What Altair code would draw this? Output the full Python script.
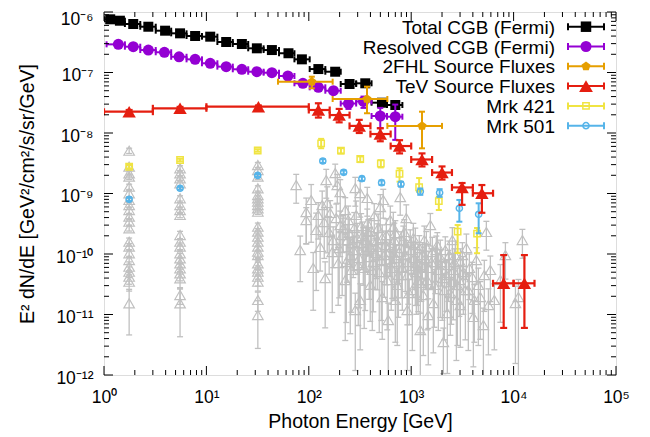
import altair as alt
import pandas as pd

FONT = "Liberation Sans"

# ---------------- data ----------------
# Total CGB (Fermi)
cgb_E = [1.15, 1.43, 1.93, 2.71, 3.95, 5.53, 7.76, 10.9, 15.6, 22.2, 31.1, 43.6, 63.3, 85.6, 124, 181, 250, 356, 518, 699]
cgb_Elo = [1.0, 1.26, 1.6, 2.26, 3.2, 4.53, 6.4, 9.05, 12.8, 18.1, 25.6, 36.2, 51.2, 72.4, 102, 145, 205, 290, 410, 580]
cgb_Ehi = [1.26, 1.6, 2.26, 3.2, 4.53, 6.4, 9.05, 12.8, 18.1, 25.6, 36.2, 51.2, 72.4, 102, 145, 205, 290, 410, 580, 820]
cgb_F = [7.57e-7, 7.18e-7, 6.33e-7, 5.71e-7, 4.91e-7, 4.44e-7, 4.01e-7, 3.91e-7, 3.19e-7, 2.96e-7,
         2.51e-7, 2.35e-7, 2.08e-7, 1.65e-7, 1.14e-7, 1.03e-7, 6.45e-8, 6.63e-8, 3.17e-8, 2.90e-8]
cgb_rel = [0.05, 0.05, 0.05, 0.05, 0.05, 0.05, 0.05, 0.05, 0.05, 0.05,
           0.06, 0.06, 0.06, 0.07, 0.08, 0.09, 0.10, 0.10, 0.12, 0.13]

# Resolved CGB (Fermi)
res_E = [1.38, 1.93, 2.71, 3.89, 5.41, 7.76, 10.9, 15.6, 22.2, 31.1, 43.6, 62.5, 87.6, 124, 174, 244, 342, 499, 699]
res_Elo = [1.06, 1.6, 2.26, 3.2, 4.53, 6.4, 9.05, 12.8, 18.1, 25.6, 36.2, 51.2, 72.4, 102, 145, 205, 290, 410, 580]
res_Ehi = [1.6, 2.26, 3.2, 4.53, 6.4, 9.05, 12.8, 18.1, 25.6, 36.2, 51.2, 72.4, 102, 145, 205, 290, 410, 580, 820]
res_F = [2.92e-7, 2.67e-7, 2.35e-7, 2.16e-7, 1.82e-7, 1.65e-7, 1.42e-7, 1.25e-7, 1.13e-7, 1.03e-7,
         9.92e-8, 8.75e-8, 6.63e-8, 5.69e-8, 5.00e-8, 3.07e-8, 3.32e-8, 1.91e-8, 1.86e-8]
res_Flo = [2.8e-7, 2.55e-7, 2.25e-7, 2.06e-7, 1.73e-7, 1.57e-7, 1.35e-7, 1.18e-7, 1.07e-7, 9.7e-8,
           9.3e-8, 8.1e-8, 6.1e-8, 5.1e-8, 4.4e-8, 2.5e-8, 2.6e-8, 1.2e-8, 7.7e-9]
res_Fhi = [3.04e-7, 2.79e-7, 2.45e-7, 2.26e-7, 1.91e-7, 1.73e-7, 1.49e-7, 1.32e-7, 1.19e-7, 1.09e-7,
           1.05e-7, 9.4e-8, 7.2e-8, 6.3e-8, 5.6e-8, 3.6e-8, 4.0e-8, 2.6e-8, 2.95e-8]

# 2FHL Source Fluxes
fhl_E = [107, 370, 1275]
fhl_Elo = [50, 171, 585]
fhl_Ehi = [171, 585, 2000]
fhl_F = [7.05e-8, 3.65e-8, 1.31e-8]
fhl_Flo = [5.48e-8, 2.12e-8, 5.58e-9]
fhl_Fhi = [8.52e-8, 5.83e-8, 2.25e-8]

# TeV Source Fluxes
tev_E = [1.76, 5.53, 32.2, 124, 198, 311, 499, 770, 1275, 2000, 3140, 4900, 8000, 12750]
tev_Elo = [1.0, 3.0, 10, 100, 160, 250, 400, 630, 1000, 1600, 2500, 4000, 6300, 10000]
tev_Ehi = [3.0, 10, 100, 160, 250, 400, 630, 1000, 1600, 2500, 4000, 6300, 10000, 16000]
tev_F = [2.25e-8, 2.56e-8, 2.72e-8, 2.40e-8, 1.98e-8, 1.31e-8, 9.62e-9, 6.09e-9, 3.65e-9, 2.22e-9,
         1.26e-9, 1.01e-9, 3.28e-11, 3.28e-11]
tev_Flo = [2.1e-8, 2.4e-8, 2.6e-8, 1.8e-8, 1.5e-8, 1.0e-8, 7.3e-9, 4.6e-9, 2.8e-9, 1.7e-9,
           6.5e-10, 4.8e-10, 6.0e-12, 6.0e-12]
tev_Fhi = [2.4e-8, 2.7e-8, 2.85e-8, 3.1e-8, 2.5e-8, 1.65e-8, 1.2e-8, 7.6e-9, 4.6e-9, 2.8e-9,
           1.49e-9, 1.38e-9, 9.6e-11, 9.6e-11]

# Mrk 421
m421_E = [1.76, 5.53, 31.7, 132, 206, 318, 505, 769, 1195, 1861, 2841, 4398]
m421_F = [2.77e-9, 3.58e-9, 5.14e-9, 6.76e-9, 5.10e-9, 3.72e-9, 3.13e-9, 2.12e-9, 1.27e-9, 7.46e-10, 2.34e-10, 2.17e-10]
m421_Flo = [2.6e-9, 3.4e-9, 4.9e-9, 5.6e-9, 4.6e-9, 3.3e-9, 2.7e-9, 1.57e-9, 1.07e-9, 5.33e-10, 1.04e-10, 1.03e-10]
m421_Fhi = [2.95e-9, 3.75e-9, 5.4e-9, 8.0e-9, 5.6e-9, 4.1e-9, 3.55e-9, 2.61e-9, 1.80e-9, 8.85e-10, 3.01e-10, 2.69e-10]

# Mrk 501
m501_E = [1.76, 5.53, 31.7, 137, 219, 330, 514, 795, 1227, 1895, 2953, 4558]
m501_F = [8.01e-10, 1.22e-9, 1.99e-9, 3.44e-9, 2.24e-9, 1.76e-9, 1.51e-9, 1.43e-9, 1.08e-9, 1.03e-9, 5.69e-10, 4.53e-10]
m501_Flo = [7.5e-10, 1.15e-9, 1.88e-9, 3.2e-9, 2.08e-9, 1.62e-9, 1.38e-9, 1.3e-9, 9.5e-10, 8.8e-10, 3.42e-10, 2.20e-10]
m501_Fhi = [8.5e-10, 1.29e-9, 2.1e-9, 3.7e-9, 2.4e-9, 1.9e-9, 1.64e-9, 1.56e-9, 1.21e-9, 1.18e-9, 7.82e-10, 6.89e-10]

# individual sources (grey open triangles), values read as log10
faint_col_E = [1.76, 5.53, 31.8]
faint_col1_logF = [-8.293, -8.557, -8.666, -8.722, -8.888, -8.997, -9.107, -9.190, -9.273, -9.383, -9.466,
                   -9.575, -9.797, -9.879, -9.988, -10.099, -10.210, -10.293, -10.375, -10.458, -10.815]
faint_col1_rel = [0.1, 0.1, 0.1, 0.1, 0.1, 0.12, 0.1, 0.1, 0.12, 0.1, 0.12,
                  0.1, 0.15, 0.12, 0.15, 0.15, 0.2, 0.2, 0.25, 0.3, 0.7]
faint_col2_logF = [-8.583, -8.666, -8.749, -8.831, -9.079, -9.190, -9.273, -9.355, -9.686, -9.797,
                   -9.879, -9.988, -10.071, -10.154, -10.236, -10.319, -10.402, -10.678, -10.815]
faint_col2_rel = [0.1, 0.1, 0.1, 0.12, 0.1, 0.1, 0.12, 0.1, 0.15, 0.12,
                  0.15, 0.15, 0.2, 0.2, 0.2, 0.25, 0.3, 0.3, 0.72]
faint_col3_logF = [-8.529, -8.612, -8.722, -8.914, -9.025, -9.079, -9.136, -9.190, -9.245, -9.301, -9.549, -9.631,
                   -9.714, -9.797, -9.879, -9.962, -10.017, -10.154, -10.236, -10.293, -10.375, -10.458, -10.760, -11.008]
faint_col3_rel = [0.1, 0.1, 0.1, 0.1, 0.12, 0.1, 0.1, 0.12, 0.1, 0.1, 0.15, 0.12,
                  0.15, 0.15, 0.15, 0.2, 0.2, 0.2, 0.25, 0.25, 0.3, 0.3, 0.35, 0.72]

faint_logE = [1.877, 1.975, 1.975, 2.023, 2.072, 2.111, 2.131, 2.170, 2.180, 2.209,
              2.229, 2.258, 2.278, 2.287, 2.307, 2.326, 2.356, 2.375, 2.385, 2.405,
              2.424, 2.444, 2.454, 2.463, 2.483, 2.502, 2.502, 2.522, 2.532, 2.551,
              2.571, 2.571, 2.581, 2.600, 2.620, 2.639, 2.649, 2.669, 2.678, 2.698,
              2.708, 2.717, 2.727, 2.747, 2.757, 2.776, 2.786, 2.796, 2.805, 2.825,
              2.835, 2.854, 2.874, 2.893, 2.903, 2.923, 2.933, 2.952, 2.962, 2.972,
              2.981, 3.001, 3.021, 3.040, 3.060, 3.069, 3.089, 3.089, 3.109, 3.128,
              3.148, 3.167, 3.187, 3.206, 3.216, 3.236, 3.255, 3.284, 3.304, 3.314,
              3.333, 3.353, 3.363, 3.382, 3.402, 3.412, 3.431, 3.451, 3.480, 3.509,
              3.539, 3.558, 3.597, 3.607, 3.636, 3.675, 3.705, 3.734, 3.773, 3.812,
              3.871, 3.920, 4.018, 4.047, 4.086, 1.916, 2.043, 2.160, 2.356, 2.600,
              2.845, 3.167, 3.480, 2.454, 2.307,
              2.092, 2.151, 2.199, 2.238, 2.268, 2.297, 2.336, 2.366, 2.395, 2.414,
              2.434, 2.473, 2.493, 2.512, 2.541, 2.561, 2.590, 2.610, 2.630, 2.659,
              2.688, 2.717, 2.737, 2.766, 2.796, 2.815, 2.845, 2.864, 2.884, 2.913,
              2.942, 2.962, 2.991, 3.011, 3.030, 3.050, 3.079, 3.099, 3.118, 3.138,
              3.157, 3.196, 3.226, 3.245, 3.265, 3.294, 3.324, 3.343, 3.372, 3.392,
              3.421, 3.441, 3.470, 3.500, 3.529, 3.568, 3.617, 3.656, 3.714, 3.754]
faint_logF = [-8.860, -9.306, -9.438, -9.107, -9.603, -9.884, -9.190, -8.777, -9.157, -9.322,
              -9.967, -8.661, -8.860, -10.149, -9.521, -9.686, -9.273, -9.769, -9.438, -10.017,
              -9.818, -9.570, -8.909, -9.355, -10.182, -8.992, -10.760, -9.702, -9.818, -9.934,
              -9.074, -9.488, -9.636, -9.884, -10.264, -9.372, -9.983, -9.769, -9.570, -9.223,
              -10.099, -10.711, -9.107, -9.851, -9.686, -11.091, -9.967, -9.438, -10.231, -9.554,
              -9.769, -10.066, -10.347, -9.058, -9.901, -9.769, -9.636, -9.405, -10.926, -10.132,
              -10.645, -9.934, -9.736, -9.851, -10.149, -10.430, -10.479, -11.256, -10.017, -9.769,
              -9.884, -10.231, -9.521, -9.967, -10.810, -10.132, -9.851, -10.050, -10.397, -11.455,
              -9.934, -10.975, -10.182, -10.645, -9.769, -10.264, -10.017, -10.512, -10.132, -10.298,
              -9.901, -10.595, -10.380, -11.041, -10.099, -10.711, -11.174, -9.636, -10.264, -10.760,
              -10.430, -10.017, -10.810, -10.711, -9.769, -9.934, -10.231, -10.397, -10.430, -10.512,
              -10.760, -11.008, -10.843, -10.926, -8.975,
              -9.355, -9.471, -9.636, -9.769, -9.405, -9.901, -9.570, -10.132, -9.653, -10.264,
              -9.934, -9.736, -10.066, -9.537, -10.231, -9.769, -10.050, -9.620, -10.132, -9.884,
              -10.298, -9.736, -10.017, -10.430, -9.851, -10.132, -9.653, -10.512, -9.967, -10.231,
              -10.017, -10.347, -9.818, -10.595, -10.066, -10.298, -9.901, -10.182, -10.678, -10.066,
              -10.430, -10.132, -10.512, -9.934, -10.264, -10.132, -10.595, -10.347, -10.017, -10.463,
              -10.132, -10.760, -10.430, -10.017, -10.595, -10.231, -10.760, -10.512, -10.347, -10.843]
faint_rel = [0.5, 0.7, 0.6, 0.8, 0.9, 0.6, 0.7, 0.5, 0.85, 0.6,
             0.9, 0.4, 0.5, 0.8, 0.7, 0.9, 0.6, 0.8, 0.7, 0.95,
             0.6, 0.8, 0.5, 0.7, 0.9, 0.6, 0.85, 0.7, 0.8, 0.9,
             0.5, 0.7, 0.6, 0.8, 0.9, 0.6, 0.75, 0.85, 0.7, 0.6,
             0.9, 0.8, 0.5, 0.7, 0.85, 0.9, 0.6, 0.7, 0.8, 0.75,
             0.9, 0.6, 0.8, 0.5, 0.85, 0.7, 0.6, 0.65, 0.9, 0.8,
             0.7, 0.6, 0.75, 0.9, 0.8, 0.7, 0.85, 0.9, 0.6, 0.7,
             0.8, 0.9, 0.55, 0.75, 0.85, 0.7, 0.6, 0.9, 0.8, 0.7,
             0.65, 0.9, 0.75, 0.8, 0.6, 0.85, 0.7, 0.9, 0.65, 0.8,
             0.7, 0.9, 0.75, 0.85, 0.6, 0.8, 0.9, 0.5, 0.7, 0.85,
             0.8, 0.6, 0.9, 0.95, 0.5, 0.7, 0.8, 0.85, 0.9, 0.75,
             0.8, 0.85, 0.8, 0.9, 0.6,
             0.6, 0.75, 0.8, 0.65, 0.7, 0.85, 0.6, 0.9, 0.7, 0.8,
             0.65, 0.75, 0.85, 0.6, 0.9, 0.7, 0.8, 0.6, 0.85, 0.7,
             0.9, 0.65, 0.8, 0.85, 0.7, 0.75, 0.6, 0.9, 0.7, 0.8,
             0.75, 0.85, 0.65, 0.9, 0.7, 0.8, 0.6, 0.75, 0.9, 0.7,
             0.85, 0.65, 0.8, 0.7, 0.9, 0.6, 0.85, 0.75, 0.7, 0.8,
             0.65, 0.9, 0.75, 0.6, 0.85, 0.7, 0.8, 0.9, 0.75, 0.85]

# axes
x_tick_values = [1, 10, 100, 1000, 10000, 100000]
x_tick_labels = ["10⁰", "10¹", "10²", "10³", "10⁴", "10⁵"]
y_tick_values = [1e-12, 1e-11, 1e-10, 1e-9, 1e-8, 1e-7, 1e-6]
y_tick_labels = ["10⁻¹²", "10⁻¹¹", "10⁻¹⁰", "10⁻⁹", "10⁻⁸", "10⁻⁷", "10⁻⁶"]

legend_labels = ["Total CGB (Fermi)", "Resolved CGB (Fermi)", "2FHL Source Fluxes",
                 "TeV Source Fluxes", "Mrk 421", "Mrk 501"]

# ---------------- styling ----------------
W, H = 512, 363
C_BLACK, C_PURPLE, C_ORANGE, C_RED = "#000000", "#9400d3", "#e69f00", "#e51e10"
C_YELLOW, C_BLUE, C_GREY = "#f0e442", "#56b4e9", "#c0c0c0"
PENTAGON = "M0,-1L0.951,-0.309L0.588,0.809L-0.588,0.809L-0.951,-0.309Z"

xscale = alt.Scale(type="log", domain=[1, 1e5], nice=False)
yscale = alt.Scale(type="log", domain=[1e-12, 1e-6], nice=False)

x_expr = "[" + ",".join("'%s'" % s for s in x_tick_labels) + "][round(log(datum.value)/LN10)]"
y_expr = "[" + ",".join("'%s'" % s for s in y_tick_labels) + "][round(log(datum.value)/LN10)+12]"

xaxis = alt.Axis(values=x_tick_values, labelExpr=x_expr, title="Photon Energy [GeV]",
                 ticks=False, domain=False, grid=False, labelFont=FONT, labelFontSize=17.5,
                 labelColor="black", labelPadding=13, labelFlush=False, labelOverlap=False,
                 labelBound=False, titleFont=FONT, titleFontSize=19.5, titleFontWeight="normal",
                 titleColor="black", titlePadding=7)
yaxis = alt.Axis(values=y_tick_values, labelExpr=y_expr, title="E² dN/dE [GeV²/cm²/s/sr/GeV]",
                 ticks=False, domain=False, grid=False, labelFont=FONT, labelFontSize=17.5,
                 labelColor="black", labelPadding=11,
                 labelOffset={"expr": "datum.value > 5e-7 ? 7 : 3"},
                 labelFlush=False, labelOverlap=False,
                 labelBound=False, titleFont=FONT, titleFontSize=19.5, titleFontWeight="normal",
                 titleColor="black", titlePadding=18)


def X(f):
    return alt.X(f, type="quantitative", scale=xscale, axis=xaxis)


def Y(f):
    return alt.Y(f, type="quantitative", scale=yscale, axis=yaxis)


def series(df, color, shape, size, filled, lw, cap, xbars, stroke_pt=1.5):
    base = alt.Chart(df)
    out = [
        base.mark_rule(color=color, strokeWidth=lw, clip=True).encode(x=X("E"), y=Y("Flo"), y2=alt.Y2("Fhi")),
        base.mark_tick(orient="horizontal", color=color, size=cap, thickness=lw, clip=True, opacity=1).encode(x=X("E"), y=Y("Fhi")),
        base.mark_tick(orient="horizontal", color=color, size=cap, thickness=lw, clip=True, opacity=1).encode(x=X("E"), y=Y("Flo")),
    ]
    if xbars:
        out += [
            base.mark_rule(color=color, strokeWidth=lw, clip=True).encode(x=X("Elo"), x2=alt.X2("Ehi"), y=Y("F")),
            base.mark_tick(orient="vertical", color=color, size=cap, thickness=lw, clip=True, opacity=1).encode(x=X("Elo"), y=Y("F")),
            base.mark_tick(orient="vertical", color=color, size=cap, thickness=lw, clip=True, opacity=1).encode(x=X("Ehi"), y=Y("F")),
        ]
    if filled:
        pt = base.mark_point(shape=shape, size=size, filled=True, color=color, opacity=1, clip=True)
    else:
        pt = base.mark_point(shape=shape, size=size, filled=False, color=color, strokeWidth=stroke_pt,
                             opacity=1, clip=True)
    out.append(pt.encode(x=X("E"), y=Y("F")))
    return out


# ---------------- tables ----------------
cgb = pd.DataFrame({"E": cgb_E, "Elo": cgb_Elo, "Ehi": cgb_Ehi, "F": cgb_F})
cgb["Flo"] = cgb["F"] * (1 - pd.Series(cgb_rel))
cgb["Fhi"] = cgb["F"] * (1 + pd.Series(cgb_rel))
res = pd.DataFrame({"E": res_E, "Elo": res_Elo, "Ehi": res_Ehi, "F": res_F, "Flo": res_Flo, "Fhi": res_Fhi})
fhl = pd.DataFrame({"E": fhl_E, "Elo": fhl_Elo, "Ehi": fhl_Ehi, "F": fhl_F, "Flo": fhl_Flo, "Fhi": fhl_Fhi})
tev = pd.DataFrame({"E": tev_E, "Elo": tev_Elo, "Ehi": tev_Ehi, "F": tev_F, "Flo": tev_Flo, "Fhi": tev_Fhi})
m421 = pd.DataFrame({"E": m421_E, "F": m421_F, "Flo": m421_Flo, "Fhi": m421_Fhi})
m501 = pd.DataFrame({"E": m501_E, "F": m501_F, "Flo": m501_Flo, "Fhi": m501_Fhi})

rows = []
for e, lfs, rels in zip(faint_col_E, [faint_col1_logF, faint_col2_logF, faint_col3_logF],
                        [faint_col1_rel, faint_col2_rel, faint_col3_rel]):
    for lf, r in zip(lfs, rels):
        rows.append((e, 10 ** lf, r))
for le, lf, r in zip(faint_logE, faint_logF, faint_rel):
    rows.append((10 ** le, 10 ** lf, r))
faint = pd.DataFrame(rows, columns=["E", "F", "rel"])
faint["Flo"] = faint["F"] * (1 - faint["rel"])
faint["Fhi"] = faint["F"] * (1 + faint["rel"])

layers = []
layers += series(faint, C_GREY, "triangle-up", 110, False, 1.3, 6, False, stroke_pt=1.2)
layers += series(m421, C_YELLOW, "square", 40, False, 2, 6, False)
layers += series(m501, C_BLUE, "circle", 38, False, 2, 6, False)
layers += series(cgb, C_BLACK, "square", 100, True, 2, 6, True)
layers += series(res, C_PURPLE, "circle", 121, True, 2, 6, True)
layers += series(fhl, C_ORANGE, PENTAGON, 90, True, 2, 6, True)
layers += series(tev, C_RED, "triangle-up", 180, True, 2.2, 7, True)

# inward ticks on all four sides (gnuplot style)
x_minor = [m * 10 ** k for k in range(0, 5) for m in range(2, 10)]
y_minor = [m * 10.0 ** k for k in range(-12, -6) for m in range(2, 10)]
for vals, ln in [(x_tick_values, 9), (x_minor, 5)]:
    d = pd.DataFrame({"E": vals})
    layers.append(alt.Chart(d).mark_rule(color="black", strokeWidth=1).encode(x=X("E"), y=alt.value(H), y2=alt.value(H - ln)))
    layers.append(alt.Chart(d).mark_rule(color="black", strokeWidth=1).encode(x=X("E"), y=alt.value(0), y2=alt.value(ln)))
for vals, ln in [(y_tick_values, 9), (y_minor, 5)]:
    d = pd.DataFrame({"F": vals})
    layers.append(alt.Chart(d).mark_rule(color="black", strokeWidth=1).encode(y=Y("F"), x=alt.value(0), x2=alt.value(ln)))
    layers.append(alt.Chart(d).mark_rule(color="black", strokeWidth=1).encode(y=Y("F"), x=alt.value(W), x2=alt.value(W - ln)))

# key (gnuplot style: text right-aligned, sample to the right)
key_colors = [C_BLACK, C_PURPLE, C_ORANGE, C_RED, C_YELLOW, C_BLUE]
key_shapes = ["square", "circle", PENTAGON, "triangle-up", "square", "circle"]
key_sizes = [110, 121, 90, 190, 40, 38]
key_filled = [True, True, True, True, False, False]
TEXT_X, L0, L1, ROW0, ROW_STEP = 451, 464, 500, 14.7, 19.8
for i, lab in enumerate(legend_labels):
    yy = ROW0 + i * ROW_STEP
    d = pd.DataFrame({"label": [lab]})
    c = key_colors[i]
    layers.append(alt.Chart(d).mark_text(align="right", baseline="middle", font=FONT, fontSize=19, color="black")
                  .encode(x=alt.value(TEXT_X), y=alt.value(yy + 1), text="label:N"))
    layers.append(alt.Chart(d).mark_rule(color=c, strokeWidth=2).encode(x=alt.value(L0), x2=alt.value(L1), y=alt.value(yy)))
    layers.append(alt.Chart(d).mark_rule(color=c, strokeWidth=2).encode(x=alt.value(L0), y=alt.value(yy - 3.5), y2=alt.value(yy + 3.5)))
    layers.append(alt.Chart(d).mark_rule(color=c, strokeWidth=2).encode(x=alt.value(L1), y=alt.value(yy - 3.5), y2=alt.value(yy + 3.5)))
    if key_filled[i]:
        mk = alt.Chart(d).mark_point(shape=key_shapes[i], size=key_sizes[i], filled=True, color=c, opacity=1)
    else:
        mk = alt.Chart(d).mark_point(shape=key_shapes[i], size=key_sizes[i], filled=False, color=c, strokeWidth=1.5, opacity=1)
    layers.append(mk.encode(x=alt.value((L0 + L1) / 2), y=alt.value(yy)))

chart = alt.layer(*layers).properties(
    width=W, height=H,
    autosize=alt.AutoSizeParams(type="none"),
    padding={"left": 96, "top": 4, "right": 20, "bottom": 58},
).configure_view(stroke="black", strokeWidth=1.2).configure(background="white")

chart.save("out.html", embed_options={"renderer": "svg", "actions": False})
